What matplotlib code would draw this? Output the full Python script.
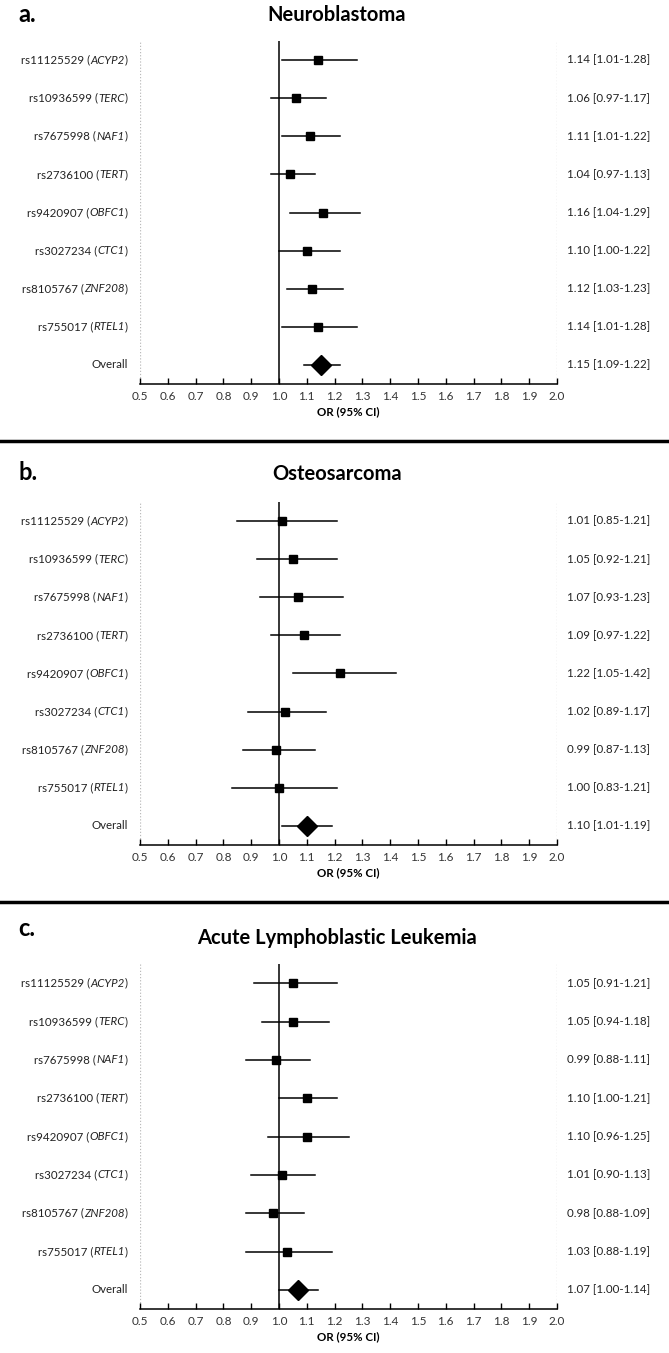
import matplotlib
matplotlib.use("Agg")
import matplotlib.pyplot as plt
from matplotlib.lines import Line2D

plt.rcParams['font.family'] = ['Lato', 'DejaVu Sans']

snps = ['rs11125529', 'rs10936599', 'rs7675998', 'rs2736100',
        'rs9420907', 'rs3027234', 'rs8105767', 'rs755017', 'Overall']
genes = ['ACYP2', 'TERC', 'NAF1', 'TERT', 'OBFC1', 'CTC1', 'ZNF208', 'RTEL1', '']

titles = ['Neuroblastoma', 'Osteosarcoma', 'Acute Lymphoblastic Leukemia']
panel_letters = ['a.', 'b.', 'c.']

or_a = [1.14, 1.06, 1.11, 1.04, 1.16, 1.10, 1.12, 1.14, 1.15]
lo_a = [1.01, 0.97, 1.01, 0.97, 1.04, 1.00, 1.03, 1.01, 1.09]
hi_a = [1.28, 1.17, 1.22, 1.13, 1.29, 1.22, 1.23, 1.28, 1.22]

or_b = [1.01, 1.05, 1.07, 1.09, 1.22, 1.02, 0.99, 1.00, 1.10]
lo_b = [0.85, 0.92, 0.93, 0.97, 1.05, 0.89, 0.87, 0.83, 1.01]
hi_b = [1.21, 1.21, 1.23, 1.22, 1.42, 1.17, 1.13, 1.21, 1.19]

or_c = [1.05, 1.05, 0.99, 1.10, 1.10, 1.01, 0.98, 1.03, 1.07]
lo_c = [0.91, 0.94, 0.88, 1.00, 0.96, 0.90, 0.88, 0.88, 1.00]
hi_c = [1.21, 1.18, 1.11, 1.21, 1.25, 1.13, 1.09, 1.19, 1.14]

panels = [(or_a, lo_a, hi_a), (or_b, lo_b, hi_b), (or_c, lo_c, hi_c)]
ticks = [0.5, 0.6, 0.7, 0.8, 0.9, 1.0, 1.1, 1.2, 1.3, 1.4, 1.5, 1.6, 1.7, 1.8, 1.9, 2.0]

W, H = 669, 1353
fig = plt.figure(figsize=(W / 100, H / 100), dpi=100)

# pixel layout of each panel: (axes top, axes bottom, letter y, title y)
layout = [(41, 384, 15, 15), (502, 845, 472, 474), (964, 1309, 928, 938)]
x0, x1 = 140, 557
txt_col = '#222222'
fs = 8.3


def snp_label(ax, j, snp, gene):
    # right-aligned label built from pieces so the gene name can be italic
    tr = ax.get_yaxis_transform()
    if not gene:
        ax.text(-0.03, j, snp, transform=tr, ha='right', va='center',
                fontsize=fs, color=txt_col)
        return
    t = ax.text(-0.03, j, ')', transform=tr, ha='right', va='center',
                fontsize=fs, color=txt_col)
    t2 = ax.annotate(gene, xy=(0, 0.5), xycoords=t, ha='right', va='center',
                     fontsize=fs, color=txt_col, style='italic')
    ax.annotate(snp + ' (', xy=(0, 0.5), xycoords=t2, ha='right', va='center',
                fontsize=fs, color=txt_col)


for i, (est, lo, hi) in enumerate(panels):
    top, bot, ly, ty = layout[i]
    ax = fig.add_axes([x0 / W, 1 - bot / H, (x1 - x0) / W, (bot - top) / H])
    n = len(est)
    for j in range(n):
        ax.plot([lo[j], hi[j]], [j, j], color='black', lw=1.1, zorder=2)
        if j < n - 1:
            ax.plot(est[j], j, marker='s', ms=5.8, color='black', zorder=3)
        else:
            ax.plot(est[j], j, marker='D', ms=10.5, color='black', zorder=3)
        snp_label(ax, j, snps[j], genes[j])
        ax.text(1.024, j, '%.2f [%.2f-%.2f]' % (est[j], lo[j], hi[j]),
                transform=ax.get_yaxis_transform(),
                ha='left', va='center', fontsize=fs, color=txt_col)
    ax.axvline(1.0, color='black', lw=1.1, zorder=1)
    ax.axvline(0.5, color='#bbbbbb', lw=0.9, ls=(0, (1, 1.5)), zorder=0)
    ax.axvline(2.0, color='#bbbbbb', lw=0.9, ls=(0, (1, 1.5)), zorder=0)
    ax.set_xlim(0.5, 2.0)
    ax.set_ylim(n - 0.5, -0.5)
    for s in ['top', 'left', 'right']:
        ax.spines[s].set_visible(False)
    ax.spines['bottom'].set_linewidth(1.1)
    ax.set_yticks([])
    ax.set_xticks(ticks)
    ax.set_xticklabels(['%.1f' % t for t in ticks], fontsize=8.5, color='#333333')
    ax.tick_params(axis='x', direction='in', length=4, width=1, pad=5)
    ax.set_xlabel('OR (95% CI)', fontsize=8.3, fontweight='bold', labelpad=3)
    fig.text(18 / W, 1 - ly / H, panel_letters[i], fontsize=17,
             fontweight='bold', va='center', ha='left')
    fig.text(337 / W, 1 - ty / H, titles[i], fontsize=14.5,
             fontweight='bold', va='center', ha='center')

for sy in [441, 902]:
    fig.add_artist(Line2D([0, 1], [1 - sy / H, 1 - sy / H], color='black',
                          lw=2.5, transform=fig.transFigure))

fig.savefig('out.png', dpi=100)
